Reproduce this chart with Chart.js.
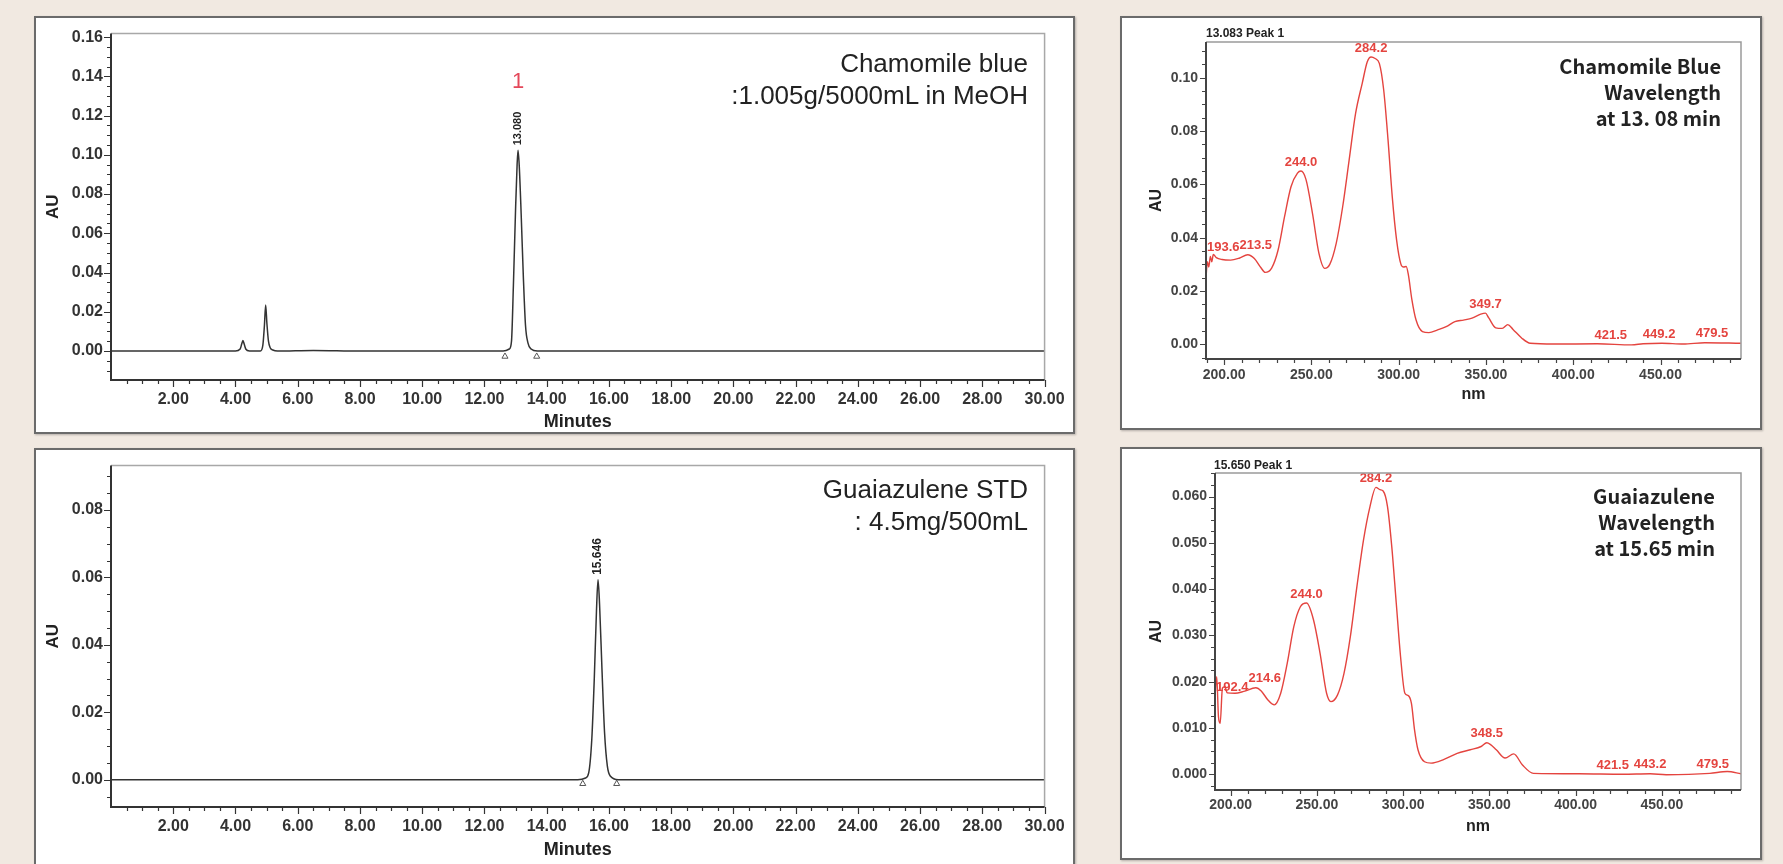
<!DOCTYPE html>
<html>
<head>
<meta charset="utf-8">
<title>Chamomile blue / Guaiazulene HPLC</title>
<script src="https://cdn.jsdelivr.net/npm/chart.js@4.4.1/dist/chart.umd.min.js"></script>
<style>
  html, body { margin: 0; padding: 0; }
  body { width: 1783px; height: 864px; background: #f1e9e1; position: relative; overflow: hidden;
         font-family: 'Liberation Sans', Arial, sans-serif; }
  .panel { position: absolute; background: #fff; border: 2px solid #6b6b6b; box-sizing: border-box;
           box-shadow: 1px 1px 2px rgba(0,0,0,0.25); }
  .panel .wrap { position: absolute; left: -2px; top: -2px; }
  .note { position: absolute; white-space: nowrap; text-align: right; color: #222; }
  .chrom-note { font-size: 26px; line-height: 32px; }
  .spec-note { font-family: 'Noto Sans CJK KR', 'Noto Sans', sans-serif; font-weight: bold; font-size: 20px; line-height: 26px; }
  .peak-head { position: absolute; font-weight: bold; font-size: 12px; line-height: 14px; color: #222; white-space: nowrap; }
</style>
</head>
<body>

<div class="panel" id="pA" style="left:34px;top:16px;width:1041px;height:418px;">
  <div class="wrap" style="width:1041px;height:418px;"><canvas id="chA"></canvas></div>
</div>
<div class="panel" id="pB" style="left:34px;top:448px;width:1041px;height:418px;">
  <div class="wrap" style="width:1041px;height:418px;"><canvas id="chB"></canvas></div>
</div>
<div class="panel" id="pC" style="left:1120px;top:16px;width:642px;height:414px;">
  <div class="wrap" style="width:642px;height:414px;"><canvas id="chC"></canvas></div>
</div>
<div class="panel" id="pD" style="left:1120px;top:447px;width:642px;height:413px;">
  <div class="wrap" style="width:642px;height:413px;"><canvas id="chD"></canvas></div>
</div>

<div class="note chrom-note" style="right:755px;top:47px;">Chamomile blue<br>:1.005g/5000mL in MeOH</div>
<div class="note chrom-note" style="right:755px;top:473px;">Guaiazulene STD<br>: 4.5mg/500mL</div>
<div class="note spec-note" style="right:62px;top:53px;">Chamomile Blue<br>Wavelength<br>at 13. 08 min</div>
<div class="note spec-note" style="right:68px;top:483px;">Guaiazulene<br>Wavelength<br>at 15.65 min</div>
<div class="peak-head" style="left:1206px;top:26px;">13.083 Peak 1</div>
<div class="peak-head" style="left:1214px;top:458px;">15.650 Peak 1</div>

<script>
// ─── Data: chromatograms ──────────────────────────────────────────────────────
const cbTime = [0, 2, 4.0, 4.15, 4.2, 4.24, 4.28, 4.33, 4.45, 4.8, 4.88, 4.93, 4.97, 5.01, 5.06, 5.12, 5.2, 5.35,
                6.5, 8, 10, 12, 12.6, 12.8, 12.87, 12.93, 13.0, 13.05, 13.08, 13.12, 13.18, 13.25, 13.32, 13.4,
                13.5, 13.7, 16, 20, 24, 28, 30];
const cbAU   = [0, 0, 0, 0.001, 0.0035, 0.0053, 0.0035, 0.001, 0, 0, 0.003, 0.013, 0.0234, 0.014, 0.005, 0.0015, 0.0005, 0,
                0.0003, 0, 0, 0, 0, 0.001, 0.005, 0.033, 0.072, 0.095, 0.1023, 0.094, 0.07, 0.038, 0.013, 0.004,
                0.001, 0, 0, 0, 0, 0, 0];
const cbMarkTime = [12.66, 13.68];
const cbMarkAU   = [-0.0028, -0.0028];

const gzTime = [0, 4, 8, 12, 15.0, 15.25, 15.35, 15.45, 15.53, 15.6, 15.65, 15.7, 15.78, 15.86, 15.95, 16.05, 16.3,
                20, 24, 28, 30];
const gzAU   = [0, 0, 0, 0, 0, 0.0005, 0.002, 0.012, 0.03, 0.05, 0.0593, 0.052, 0.032, 0.014, 0.004, 0.001, 0,
                0, 0, 0, 0];
const gzMarkTime = [15.16, 16.25];
const gzMarkAU   = [-0.0012, -0.0012];

const minuteTicks  = [2, 4, 6, 8, 10, 12, 14, 16, 18, 20, 22, 24, 26, 28, 30];
const minuteLabels = ['2.00', '4.00', '6.00', '8.00', '10.00', '12.00', '14.00', '16.00', '18.00', '20.00',
                      '22.00', '24.00', '26.00', '28.00', '30.00'];
const cbAuTicks  = [0, 0.02, 0.04, 0.06, 0.08, 0.10, 0.12, 0.14, 0.16];
const cbAuLabels = ['0.00', '0.02', '0.04', '0.06', '0.08', '0.10', '0.12', '0.14', '0.16'];
const gzAuTicks  = [0, 0.02, 0.04, 0.06, 0.08];
const gzAuLabels = ['0.00', '0.02', '0.04', '0.06', '0.08'];

// ─── Data: UV spectra ─────────────────────────────────────────────────────────
const cbNm = [189.6, 190.4, 191.2, 192.1, 192.9, 193.8, 195.5, 198.8, 203.7, 208.6, 213.5, 217.3, 221.0, 223.5,
              227.2, 230.9, 234.6, 238.3, 242.0, 244.0, 246.9, 250.6, 254.3, 257.6, 260.5, 264.2, 267.9, 271.6,
              275.3, 279.1, 282.0, 284.2, 286.5, 288.9, 291.4, 293.9, 296.3, 298.8, 301.3, 302.8, 304.3, 305.5,
              307.5, 309.9, 313.6, 317.3, 322.3, 327.2, 332.2, 337.1, 342.0, 347.0, 349.7, 351.5, 355.6, 359.3,
              362.5, 365.5, 370.4, 375.4, 389.0, 413.7, 433.4, 440.0, 450.7, 463.0, 475.4, 496.0];
const cbSpec = [0.025, 0.031, 0.029, 0.033, 0.031, 0.0337, 0.0325, 0.0318, 0.0316, 0.0323, 0.0336, 0.0322, 0.0288, 0.0270,
                0.0286, 0.0354, 0.0479, 0.0591, 0.0642, 0.0650, 0.0618, 0.0491, 0.0341, 0.0285, 0.0300, 0.0379, 0.0516, 0.0691,
                0.0866, 0.0979, 0.1060, 0.1078, 0.1072, 0.1054, 0.0954, 0.0766, 0.0554, 0.0391, 0.0300, 0.0290, 0.0292, 0.0262,
                0.0170, 0.0092, 0.0048, 0.0044, 0.0054, 0.0066, 0.0085, 0.0091, 0.0098, 0.0113, 0.0117, 0.0100, 0.0062, 0.0060,
                0.0074, 0.0056, 0.0024, 0.0004, 0.0001, 0.0002, -0.0002, 0.0002, 0.0004, 0.0001, 0.0006, 0.0004];
const cbPeakNm   = [193.6, 213.5, 244.0, 284.2, 349.7, 421.5, 449.2, 479.5];
const cbPeakText = ['193.6', '213.5', '244.0', '284.2', '349.7', '421.5', '449.2', '479.5'];

const gzNm = [190.9, 191.9, 192.9, 193.9, 195.2, 196.5, 198.0, 202.5, 207.6, 214.6, 217.7, 221.5, 225.3, 229.0,
              232.8, 236.6, 240.4, 244.0, 248.0, 251.8, 255.6, 258.1, 261.9, 265.7, 269.4, 273.2, 277.0, 280.8,
              284.2, 286.5, 288.4, 290.9, 293.4, 296.0, 298.5, 301.0, 303.0, 304.8, 306.6, 308.6, 312.4, 316.2,
              323.7, 331.3, 338.9, 345.2, 348.5, 350.7, 354.0, 359.1, 364.1, 369.2, 375.5, 402.0, 427.3, 443.2,
              452.5, 477.8, 487.9, 496.0];
const gzSpec = [0.0168, 0.0211, 0.0125, 0.0110, 0.0186, 0.0189, 0.0176, 0.0175, 0.0179, 0.0187, 0.0180, 0.0161, 0.0150, 0.0175,
                0.0240, 0.0319, 0.0362, 0.0370, 0.0334, 0.0262, 0.0175, 0.0157, 0.0171, 0.0218, 0.0298, 0.0406, 0.0506, 0.0579,
                0.0620, 0.0615, 0.0612, 0.0579, 0.0492, 0.0370, 0.0254, 0.0175, 0.0170, 0.0153, 0.0096, 0.0053, 0.0027, 0.0024,
                0.0032, 0.0045, 0.0053, 0.0060, 0.0068, 0.0064, 0.0053, 0.0035, 0.0044, 0.0020, 0.0002, 0.0001, 0.0000, 0.0001,
                -0.0001, 0.0002, 0.0006, 0.0001];
const gzPeakNm   = [192.4, 214.6, 244.0, 284.2, 348.5, 421.5, 443.2, 479.5];
const gzPeakText = ['192.4', '214.6', '244.0', '284.2', '348.5', '421.5', '443.2', '479.5'];

const nmTicks  = [200, 250, 300, 350, 400, 450];
const nmLabels = ['200.00', '250.00', '300.00', '350.00', '400.00', '450.00'];
const cbSpecTicks  = [0, 0.02, 0.04, 0.06, 0.08, 0.10];
const cbSpecLabels = ['0.00', '0.02', '0.04', '0.06', '0.08', '0.10'];
const gzSpecTicks  = [0, 0.010, 0.020, 0.030, 0.040, 0.050, 0.060];
const gzSpecLabels = ['0.000', '0.010', '0.020', '0.030', '0.040', '0.050', '0.060'];

const RED = '#e4443f';
const zip = (xs, ys) => xs.map((v, i) => ({ x: v, y: ys[i] }));

// ─── Plugins ──────────────────────────────────────────────────────────────────
// frame: axis lines, plot box and major/minor tick marks
const framePlugin = {
  id: 'frame',
  afterDraw(chart, args, o) {
    const { ctx, chartArea: a, scales: { x, y } } = chart;
    ctx.save();
    ctx.strokeStyle = o.boxColor; ctx.lineWidth = 1.5;
    ctx.beginPath(); ctx.moveTo(a.left, a.top); ctx.lineTo(a.right, a.top); ctx.lineTo(a.right, a.bottom); ctx.stroke();
    ctx.strokeStyle = o.axisColor; ctx.lineWidth = 2;
    ctx.beginPath(); ctx.moveTo(a.left, a.top); ctx.lineTo(a.left, a.bottom); ctx.lineTo(a.right, a.bottom); ctx.stroke();
    ctx.lineWidth = 1.2;
    ctx.beginPath();
    const isMajor = (list, v) => list.some(m => Math.abs(m - v) < 1e-7);
    for (let i = 0; ; i++) {
      const v = o.xMinorStart + i * o.xMinor;
      if (v > x.max + 1e-9) break;
      if (v < x.min - 1e-9) continue;
      const px = Math.round(x.getPixelForValue(v)) + 0.5;
      ctx.moveTo(px, a.bottom); ctx.lineTo(px, a.bottom + (isMajor(o.xMajor, v) ? o.majorLen : o.minorLen));
    }
    for (let i = 0; ; i++) {
      const v = o.yMinorStart + i * o.yMinor;
      if (v > y.max + 1e-9) break;
      if (v < y.min - 1e-9) continue;
      const py = Math.round(y.getPixelForValue(v)) + 0.5;
      ctx.moveTo(a.left, py); ctx.lineTo(a.left - (isMajor(o.yMajor, v) ? o.majorLen : o.minorLen), py);
    }
    ctx.stroke();
    ctx.restore();
  }
};

// chromatogram peak: rotated retention time + peak number
const peakPlugin = {
  id: 'peakMark',
  afterDatasetsDraw(chart, args, o) {
    if (!o.time) return;
    const { ctx, scales: { x, y } } = chart;
    const px = x.getPixelForValue(o.time), py = y.getPixelForValue(o.au);
    ctx.save();
    ctx.fillStyle = '#222';
    ctx.font = `bold ${o.size}px "Liberation Sans", Arial, sans-serif`;
    ctx.translate(px, py - 5);
    ctx.rotate(-Math.PI / 2);
    ctx.textAlign = 'left'; ctx.textBaseline = 'middle';
    ctx.fillText(o.text, 0, 0);
    ctx.restore();
    if (o.number) {
      ctx.save();
      ctx.fillStyle = o.numberColor;
      ctx.font = '22px "Liberation Sans", Arial, sans-serif';
      ctx.textAlign = 'center'; ctx.textBaseline = 'middle';
      ctx.fillText(o.number, px, py - 68);
      ctx.restore();
    }
  }
};

// spectrum maxima labels, placed just above the trace
const specLabelPlugin = {
  id: 'specLabels',
  afterDatasetsDraw(chart, args, o) {
    if (!o.nm) return;
    const { ctx, chartArea: a, scales: { x, y } } = chart;
    const xs = o.xs, ys = o.ys;
    const auAt = nm => {
      for (let i = 1; i < xs.length; i++) {
        if (nm <= xs[i]) { const t = (nm - xs[i - 1]) / (xs[i] - xs[i - 1]); return ys[i - 1] + t * (ys[i] - ys[i - 1]); }
      }
      return ys[ys.length - 1];
    };
    ctx.save();
    ctx.fillStyle = RED;
    ctx.font = 'bold 13px "Liberation Sans", Arial, sans-serif';
    ctx.textAlign = 'center'; ctx.textBaseline = 'middle';
    let prevRight = a.left + 1;
    o.nm.forEach((nm, i) => {
      const w = ctx.measureText(o.text[i]).width;
      let cx = x.getPixelForValue(nm);
      cx = Math.max(cx, prevRight + w / 2);
      prevRight = cx + w / 2;
      ctx.fillText(o.text[i], cx, y.getPixelForValue(auAt(nm)) - 9);
    });
    ctx.restore();
  }
};

Chart.register(framePlugin, peakPlugin, specLabelPlugin);

// ─── Chart builder ────────────────────────────────────────────────────────────
function buildChart(id, cfg) {
  const tickFont = cfg.spectrum
    ? { family: '"Liberation Sans", Arial, sans-serif', size: 14, weight: 'bold', lineHeight: 1.2 }
    : { family: '"Liberation Sans", Arial, sans-serif', size: 16, weight: 'bold', lineHeight: 1.2 };
  const tickColor = cfg.spectrum ? '#444' : '#333';
  const datasets = [{
    data: zip(cfg.xs, cfg.ys),
    showLine: true,
    borderColor: cfg.lineColor,
    borderWidth: cfg.lineWidth,
    pointRadius: 0,
    cubicInterpolationMode: 'monotone',
    fill: false
  }];
  if (cfg.markX) {
    datasets.push({
      data: zip(cfg.markX, cfg.markY),
      showLine: false,
      pointStyle: 'triangle',
      pointRadius: 3.5,
      borderWidth: 1,
      borderColor: '#555',
      backgroundColor: '#fff'
    });
  }
  return new Chart(document.getElementById(id), {
    type: 'scatter',
    data: { datasets },
    options: {
      responsive: true,
      maintainAspectRatio: false,
      animation: false,
      events: [],
      layout: { padding: { left: 0, top: cfg.padTop, right: cfg.padRight, bottom: 0 } },
      plugins: {
        legend: { display: false },
        tooltip: { enabled: false },
        frame: cfg.frame,
        peakMark: cfg.peak || {},
        specLabels: cfg.labels || {}
      },
      scales: {
        x: {
          type: 'linear', min: cfg.xMin, max: cfg.xMax,
          grid: { display: false, drawTicks: false },
          border: { display: false },
          afterFit: s => { s.height = cfg.xAxisH; },
          afterBuildTicks: s => { s.ticks = cfg.xTicks.map(v => ({ value: v })); },
          ticks: {
            autoSkip: false, maxRotation: 0, minRotation: 0, padding: cfg.xTickPad,
            font: tickFont, color: tickColor,
            callback: (v, i) => cfg.xLabels[i]
          },
          title: {
            display: true, text: cfg.xTitle, color: '#222',
            font: { family: '"Liberation Sans", Arial, sans-serif', size: cfg.titleSize, weight: 'bold', lineHeight: 1.2 },
            padding: { top: 0, bottom: cfg.xTitlePad }
          }
        },
        y: {
          type: 'linear', min: cfg.yMin, max: cfg.yMax,
          grid: { display: false, drawTicks: false },
          border: { display: false },
          afterFit: s => { s.width = cfg.yAxisW; },
          afterBuildTicks: s => { s.ticks = cfg.yTicks.map(v => ({ value: v })); },
          ticks: {
            autoSkip: false, padding: cfg.yTickPad,
            font: tickFont, color: tickColor,
            callback: (v, i) => cfg.yLabels[i]
          },
          title: {
            display: true, text: 'AU', color: '#222',
            font: { family: '"Liberation Sans", Arial, sans-serif', size: cfg.auSize, weight: 'bold', lineHeight: 1.2 },
            padding: { top: cfg.yTitlePad, bottom: 0 }
          }
        }
      }
    }
  });
}

const chromFrame = (yMajor) => ({
  boxColor: '#a8a8a8', axisColor: '#333', majorLen: 7, minorLen: 4,
  xMajor: minuteTicks, xMinor: 0.5, xMinorStart: 0.5,
  yMajor: yMajor, yMinor: 0.005, yMinorStart: -0.015
});

// Chamomile blue chromatogram
buildChart('chA', {
  xs: cbTime, ys: cbAU, markX: cbMarkTime, markY: cbMarkAU,
  lineColor: '#333', lineWidth: 1.5,
  xMin: 0, xMax: 30, yMin: -0.0148, yMax: 0.1618,
  xTicks: minuteTicks, xLabels: minuteLabels, yTicks: cbAuTicks, yLabels: cbAuLabels,
  padTop: 17, padRight: 29, yAxisW: 77, xAxisH: 54,
  xTickPad: 10.4, yTickPad: 8, xTitle: 'Minutes', titleSize: 18, auSize: 17,
  xTitlePad: 1.2, yTitlePad: 9.5,
  frame: chromFrame(cbAuTicks),
  peak: { time: 13.08, au: 0.1023, text: '13.080', size: 11, number: '1', numberColor: '#e4485a' }
});

// Guaiazulene STD chromatogram
buildChart('chB', {
  xs: gzTime, ys: gzAU, markX: gzMarkTime, markY: gzMarkAU,
  lineColor: '#333', lineWidth: 1.5,
  xMin: 0, xMax: 30, yMin: -0.0081, yMax: 0.0932,
  xTicks: minuteTicks, xLabels: minuteLabels, yTicks: gzAuTicks, yLabels: gzAuLabels,
  padTop: 13, padRight: 29, yAxisW: 77, xAxisH: 59,
  xTickPad: 10.4, yTickPad: 8, xTitle: 'Minutes', titleSize: 18, auSize: 17,
  xTitlePad: 5.2, yTitlePad: 9.5,
  frame: chromFrame(gzAuTicks),
  peak: { time: 15.65, au: 0.0593, text: '15.646', size: 12 }
});

// Chamomile blue spectrum at 13.08 min
buildChart('chC', {
  spectrum: true,
  xs: cbNm, ys: cbSpec,
  lineColor: RED, lineWidth: 1.4,
  xMin: 189.6, xMax: 496.1, yMin: -0.0055, yMax: 0.1134,
  xTicks: nmTicks, xLabels: nmLabels, yTicks: cbSpecTicks, yLabels: cbSpecLabels,
  padTop: 26, padRight: 21, yAxisW: 86, xAxisH: 71,
  xTickPad: 8, yTickPad: 8, xTitle: 'nm', titleSize: 16, auSize: 16,
  xTitlePad: 25.4, yTitlePad: 27,
  frame: { boxColor: '#9a9a9a', axisColor: '#444', majorLen: 6, minorLen: 4,
           xMajor: nmTicks, xMinor: 10, xMinorStart: 190,
           yMajor: cbSpecTicks, yMinor: 0.005, yMinorStart: -0.005 },
  labels: { nm: cbPeakNm, text: cbPeakText, xs: cbNm, ys: cbSpec }
});

// Guaiazulene spectrum at 15.65 min
buildChart('chD', {
  spectrum: true,
  xs: gzNm, ys: gzSpec,
  lineColor: RED, lineWidth: 1.4,
  xMin: 190.9, xMax: 495.9, yMin: -0.0034, yMax: 0.0651,
  xTicks: nmTicks, xLabels: nmLabels, yTicks: gzSpecTicks, yLabels: gzSpecLabels,
  padTop: 26, padRight: 21, yAxisW: 95, xAxisH: 70,
  xTickPad: 7, yTickPad: 8, xTitle: 'nm', titleSize: 16, auSize: 16,
  xTitlePad: 23.7, yTitlePad: 27,
  frame: { boxColor: '#9a9a9a', axisColor: '#444', majorLen: 6, minorLen: 4,
           xMajor: nmTicks, xMinor: 10, xMinorStart: 190,
           yMajor: gzSpecTicks, yMinor: 0.0025, yMinorStart: -0.0025 },
  labels: { nm: gzPeakNm, text: gzPeakText, xs: gzNm, ys: gzSpec }
});
</script>
</body>
</html>
